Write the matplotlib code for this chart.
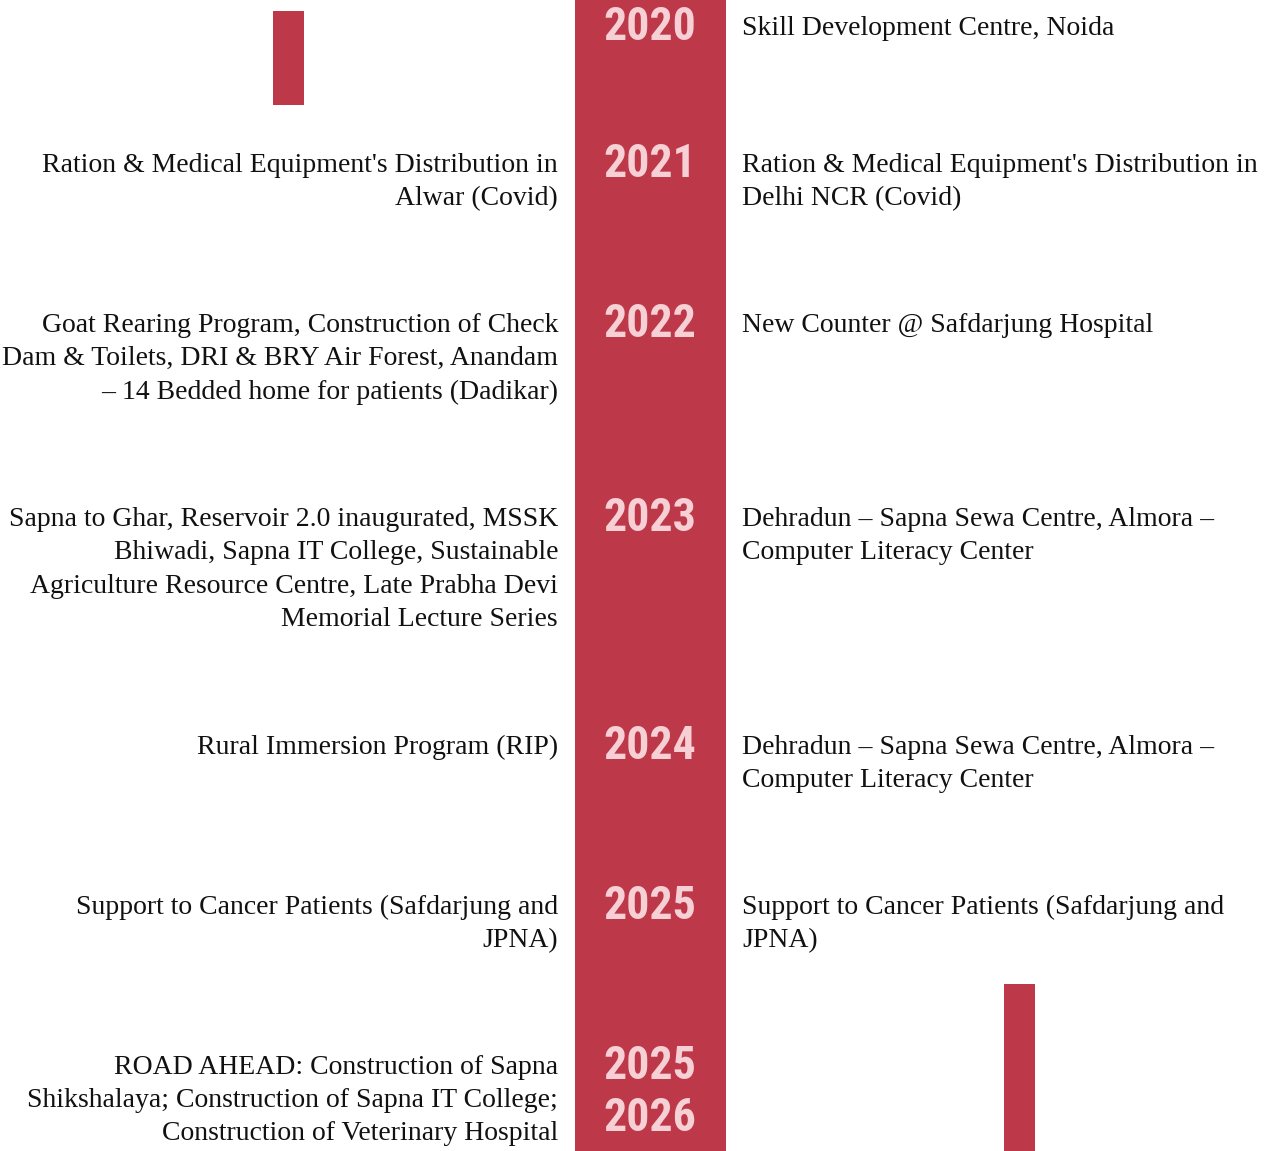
import matplotlib.pyplot as plt
from matplotlib.patches import Rectangle
from matplotlib import font_manager

# timeline content
years = ["2020", "2021", "2022", "2023", "2024", "2025", "2025\n2026"]
left_items = [
    "",
    "Ration & Medical Equipment's Distribution in\nAlwar (Covid)",
    "Goat Rearing Program, Construction of Check\nDam & Toilets, DRI & BRY Air Forest, Anandam\n\u2013 14 Bedded home for patients (Dadikar)",
    "Sapna to Ghar, Reservoir 2.0 inaugurated, MSSK\nBhiwadi, Sapna IT College, Sustainable\nAgriculture Resource Centre, Late Prabha Devi\nMemorial Lecture Series",
    "Rural Immersion Program (RIP)",
    "Support to Cancer Patients (Safdarjung and\nJPNA)",
    "ROAD AHEAD: Construction of Sapna\nShikshalaya; Construction of Sapna IT College;\nConstruction of Veterinary Hospital",
]
right_items = [
    "Skill Development Centre, Noida",
    "Ration & Medical Equipment's Distribution in\nDelhi NCR (Covid)",
    "New Counter @ Safdarjung Hospital",
    "Dehradun \u2013 Sapna Sewa Centre, Almora \u2013\nComputer Literacy Center",
    "Dehradun \u2013 Sapna Sewa Centre, Almora \u2013\nComputer Literacy Center",
    "Support to Cancer Patients (Safdarjung and\nJPNA)",
    "",
]

RED = "#BD3949"
PINK = "#F6D0D5"
W, H = 1271, 1151

# pick a narrow/condensed sans for the year labels if one is installed
names = {f.name for f in font_manager.fontManager.ttflist}
cond_font = None
for cand in ["Liberation Sans Narrow", "Roboto Condensed", "Open Sans Condensed",
             "DejaVu Sans Condensed", "Noto Sans Condensed"]:
    if cand in names:
        cond_font = cand
        break
stretch_fonts = [f for f in font_manager.fontManager.ttflist
                 if f.name == "DejaVu Sans" and f.stretch == "condensed"]

fig = plt.figure(figsize=(W / 100, H / 100), dpi=100)
ax = fig.add_axes([0, 0, 1, 1])
ax.set_xlim(0, W)
ax.set_ylim(H, 0)
ax.axis('off')

# central band
ax.add_patch(Rectangle((575, 0), 151, H, color=RED, lw=0))

serif = ["Liberation Serif", "DejaVu Serif"]
if cond_font:
    year_kw = dict(family=[cond_font, "DejaVu Sans"], fontsize=33)
elif stretch_fonts:
    year_kw = dict(family="DejaVu Sans", fontstretch="condensed", fontsize=30)
else:
    year_kw = dict(family="DejaVu Sans", fontsize=26)

line_h = 34
y = 25
for yr, lt, rt in zip(years, left_items, right_items):
    for i, ln in enumerate(yr.split("\n")):
        ax.text(650, y + 2 + i * 52, ln, ha='center', va='center', color=PINK,
                fontweight='bold', **year_kw)
    llines = lt.split("\n") if lt else []
    rlines = rt.split("\n") if rt else []
    for i, ln in enumerate(llines):
        ax.text(558, y + 3 + i * 33.5, ln, ha='right', va='center',
                fontsize=20, family=serif, color="#111111")
    for i, ln in enumerate(rlines):
        ax.text(742, y + 3 + i * 33.5, ln, ha='left', va='center',
                fontsize=20, family=serif, color="#111111")
    n = max(len(llines), len(rlines), 1)
    y += max(line_h * n + 92, 137)

# decorative markers where a side has no entry
ax.add_patch(Rectangle((273, 11), 31, 94, color=RED, lw=0))
ax.add_patch(Rectangle((1004, 984), 31, H - 984, color=RED, lw=0))

fig.savefig("out.png", dpi=100)
